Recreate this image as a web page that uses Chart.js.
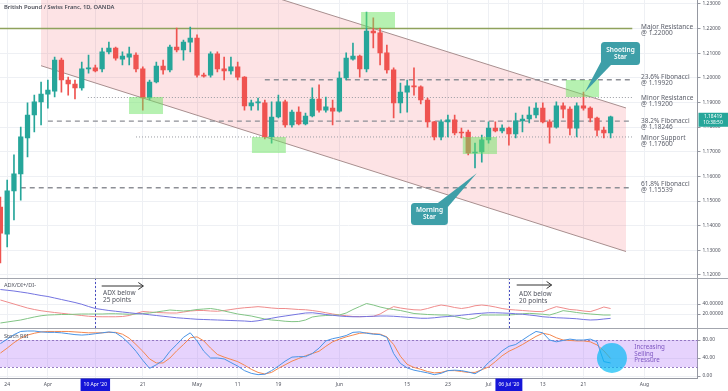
<!DOCTYPE html>
<html><head><meta charset="utf-8">
<script src="https://cdn.jsdelivr.net/npm/chart.js@4.4.1/dist/chart.umd.min.js"></script>
<style>html,body{margin:0;padding:0;background:#fff;overflow:hidden}canvas{display:block}</style>
</head><body>
<canvas id="c" width="728" height="391"></canvas>
<script>
// ---------------- DATA ----------------
const opens  = [1.1476,1.1366,1.1541,1.1610,1.1756,1.1849,1.1902,1.1934,1.1946,1.2072,1.1991,1.1975,1.1959,1.2036,1.2040,1.2036,1.2105,1.2121,1.2076,1.2084,1.2092,1.2036,1.1918,1.1983,1.2048,1.2032,1.2125,1.2113,1.2145,1.2161,1.2011,1.2011,1.2097,1.2036,1.2028,1.2044,1.2003,1.1886,1.1898,1.1898,1.1760,1.1841,1.1902,1.1809,1.1861,1.1813,1.1845,1.1914,1.1869,1.1877,1.1865,1.1999,1.2076,1.2088,1.2036,1.2190,1.2182,1.2101,1.2032,1.1898,1.1942,1.1967,1.1963,1.1910,1.1821,1.1760,1.1821,1.1829,1.1780,1.1780,1.1695,1.1699,1.1748,1.1796,1.1784,1.1796,1.1772,1.1825,1.1833,1.1849,1.1877,1.1821,1.1800,1.1886,1.1873,1.1796,1.1886,1.1877,1.1837,1.1788,1.1776];
const highs  = [1.1516,1.1585,1.1687,1.1800,1.1898,1.1930,1.1983,1.1991,1.2084,1.2080,1.2003,1.1991,1.2064,1.2092,1.2052,1.2121,1.2145,1.2125,1.2105,1.2125,1.2101,1.2044,1.1991,1.2064,1.2072,1.2133,1.2202,1.2153,1.2206,1.2174,1.2019,1.2105,1.2105,1.2084,1.2084,1.2064,1.2005,1.1910,1.1918,1.1910,1.1902,1.1930,1.1910,1.1869,1.1882,1.1857,1.1959,1.1971,1.1922,1.1910,1.2024,1.2101,1.2141,1.2092,1.2267,1.2243,1.2202,1.2133,1.2040,1.1979,1.1991,1.2040,1.1967,1.1918,1.1823,1.1829,1.1849,1.1849,1.1796,1.1788,1.1735,1.1768,1.1821,1.1821,1.1809,1.1800,1.1857,1.1849,1.1882,1.1898,1.1898,1.1829,1.1902,1.1898,1.1882,1.1898,1.1942,1.1882,1.1841,1.1800,1.1845];
const lows   = [1.1249,1.1314,1.1423,1.1504,1.1679,1.1780,1.1809,1.1877,1.1922,1.1942,1.1930,1.1914,1.1950,1.2019,1.2024,1.2024,1.2097,1.2072,1.2052,1.2052,1.2024,1.1869,1.1910,1.1979,1.2015,1.2024,1.2105,1.2072,1.2105,1.2003,1.2003,1.2003,1.2024,1.1991,1.2015,1.1991,1.1869,1.1869,1.1869,1.1752,1.1735,1.1837,1.1800,1.1800,1.1809,1.1809,1.1841,1.1861,1.1861,1.1809,1.1861,1.1991,1.2072,1.2003,1.2024,1.2121,1.2052,1.2019,1.1837,1.1857,1.1861,1.1930,1.1894,1.1800,1.1748,1.1748,1.1760,1.1768,1.1756,1.1687,1.1634,1.1658,1.1735,1.1780,1.1776,1.1727,1.1756,1.1780,1.1817,1.1837,1.1817,1.1735,1.1796,1.1837,1.1768,1.1760,1.1869,1.1821,1.1764,1.1756,1.1756];
const closes = [1.1370,1.1541,1.1610,1.1760,1.1849,1.1902,1.1934,1.1950,1.2072,1.1991,1.1975,1.1959,1.2036,1.2040,1.2028,1.2105,1.2121,1.2080,1.2088,1.2097,1.2036,1.1918,1.1983,1.2048,1.2032,1.2125,1.2113,1.2145,1.2161,1.2011,1.2007,1.2097,1.2036,1.2028,1.2044,1.2003,1.1886,1.1898,1.1902,1.1760,1.1841,1.1902,1.1809,1.1861,1.1813,1.1845,1.1914,1.1869,1.1882,1.1865,1.1999,1.2080,1.2088,1.2036,1.2190,1.2182,1.2101,1.2032,1.1898,1.1942,1.1967,1.1963,1.1910,1.1821,1.1760,1.1821,1.1829,1.1776,1.1776,1.1695,1.1699,1.1748,1.1796,1.1784,1.1796,1.1772,1.1825,1.1833,1.1849,1.1877,1.1821,1.1800,1.1886,1.1873,1.1796,1.1886,1.1877,1.1837,1.1788,1.1776,1.18419];

const adx    = [69,67.5,66,64,62,59.5,57,55,52,49,46,43,39.5,35,31,29,27,25.5,24,22.5,21,20,18.5,17,15.5,14,12.5,11.5,10.5,9.5,9,8.5,8,7.5,7,6.5,6,5,6.5,9,11.5,14,16,18,20,22,22.5,21,19,17.5,16,15,14.5,14.5,15,15.5,16,16,15.5,14.5,13.5,12.5,11.5,11.5,12.5,14,15,16,17.5,19,20.5,21.5,22.5,22.5,22,21.5,20.5,19.5,18,16.5,14.5,13.5,12.5,12,11.3,10.5,9,8,8.5,10,11.3];
const diMinus= [48,44,40,36,32,29,26.5,24.7,23,21.5,20,18.5,17,15.5,14.7,14.5,14.5,14.5,15,17,21,25,24,23,22.5,22,22,24,26,27,27,26,25.5,27,29,31,32.5,33.5,34.7,33.5,32,31,31,30,29,28.5,27,25,22.5,20,18,16.5,15,14.7,15,15.3,20,28,34.7,32,30,28.5,28,31,35,38,36,33,31,33,36.5,38,36.5,34,31,29,28,27,26,25,24.7,30,34.7,32,29,28,26,24.7,29,34,31];
const diPlus = [2,4,6,8,11,14,16.5,18,18.5,19,19,19.5,20,20,20,20,20.5,20.5,20,19.5,20,21,22,24,26,28,27,26,27,29,30,31,29,26,23,20,18,16,13,10,8,7,5.5,4.7,5,8,14,16,17,17.5,18,22,29,35,41,38,34,31,29,27,24,21,20,19,18.5,18,18,15,12,9.3,12,18,18,18,18,18,19,20.5,21.3,20.5,19.5,18,22,26.7,25,23,21.3,20,19,18,18];
const stochK = [72,82,92,99,100,100,98,97,97,96,94,92,91,92,94,96,98,96,86,72,55,35,17,25,35,55,70,86,96,78,55,40,40,38,30,22,12,6,3,4,12,22,33,42,43,43,50,62,78,83,86,90,97,98,95,93,92,86,50,28,18,13,10,7,3,6,12,13,12,9,5,14,30,42,56,66,70,80,90,99,96,80,76,79,82,80,80,82,76,32,29];
const stochD = [51,62,74,84,91,95,98,99,99,99,99,98,97,96,96,96,97,97,93,84,70,55,38,29,29,40,56,70,85,87,78,62,48,42,37,32,24,15,8,4.5,8,17,25,33,39,45,50,55,66,76,82,87,91,95,96,94,93,87,70,44,26,19,15,10,7,8,12,12,10,8,8,14,20,32,45,55,62,70,79,88,95,92,85,80,79,78,78,76,69,56,39];

const xTickIdx    = [1,7,14,21,29,35,41,50,60,66,72,75,80,86,95];
const xTickLabels = ['24','Apr',"10 Apr '20",'21','May','11','19','Jun','15','23','Jul',"06 Jul '20",'13','21','Aug'];
const highlightTicks = ["10 Apr '20","06 Jul '20"];
const priceTicks  = [1.12,1.13,1.14,1.15,1.16,1.17,1.18,1.19,1.20,1.21,1.22,1.23];
const adxTicks    = [20,40];
const stochTicks  = [0,40,80];

const levelNames  = ['Major Resistance','23.6% Fibonacci','Minor Resistance','38.2% Fibonacci','Minor Support','61.8% Fibonacci'];
const levelPrices = [1.22000,1.19920,1.19200,1.18246,1.17600,1.15539];
const levelStart  = [-0.06,39.0,12.9,7.0,20.0,3.0];
const levelEnd    = 93.2;

const channelX     = [5.99, 92.27];
const channelUpper = [1.2625, 1.18775];
const channelLower = [1.20491, 1.12953];

// highlight boxes: [x0, x1, priceTop, priceBottom]
const boxX0 = [18.97, 37.1, 53.2, 68.2, 83.4];
const boxX1 = [23.98, 42.1, 58.2, 73.24, 88.3];
const boxP0 = [1.19221, 1.17598, 1.22669, 1.17598, 1.19911];
const boxP1 = [1.18531, 1.16949, 1.22020, 1.16908, 1.19221];

const lastTime = '10:38:50';

// ---------------- STYLE ----------------
const F = "'Noto Sans', 'DejaVu Sans', sans-serif";
const UP = '#26a69a', DOWN = '#ef5350';
const GRID = '#eef0f4';
const AX = '#50535e';
const levelStyle = [
  {color:'#8fa25c', dash:[], w:1.3},
  {color:'#8d8f96', dash:[5,4], w:1.3},
  {color:'#9a9ca3', dash:[1,2], w:1},
  {color:'#8d8f96', dash:[5,4], w:1.3},
  {color:'#9a9ca3', dash:[1,2], w:1},
  {color:'#8d8f96', dash:[5,4], w:1.3}
];
const levelLabelDy = [-1.8,-3.1,0.2,-0.3,0.7,-3.8];

Chart.defaults.font.family = F;

const idx = opens.map((_, i) => i);
const candleColors = idx.map(i => closes[i] >= opens[i] ? UP : DOWN);
const pts = arr => arr.map((v, i) => ({x: i, y: v}));

const xMin = -0.059, xMax = -0.059 + 697.5 / 6.78;
const yMin = 1.11878, yMax = 1.23156;

function noPad(s){ s.paddingTop = 0; s.paddingBottom = 0; s.paddingLeft = 0; s.paddingRight = 0; }
function yAxis(weight, min, max, ticks, dec){
  return {
    type:'linear', position:'right', stack:'pane', stackWeight:weight, min, max,
    grid:{color:GRID, tickLength:3, tickColor:'#9598a1'},
    border:{color:'#9598a1'},
    afterBuildTicks: s => { s.ticks = ticks.map(v => ({value:v})); },
    afterFit: s => { s.width = 30.5; noPad(s); },
    ticks:{ font:{size:4.9}, color:AX, padding:2, autoSkip:false, callback: v => Number(v).toFixed(dec) }
  };
}

function txt(ctx, s, x, y, size, color, weight, align){
  ctx.font = (weight || 'normal') + ' ' + size + 'px ' + F;
  ctx.fillStyle = color; ctx.textAlign = align || 'left'; ctx.textBaseline = 'middle';
  ctx.fillText(s, x, y);
}
function roundRect(ctx, x, y, w, h, r){
  ctx.beginPath();
  ctx.moveTo(x + r, y); ctx.lineTo(x + w - r, y); ctx.quadraticCurveTo(x + w, y, x + w, y + r);
  ctx.lineTo(x + w, y + h - r); ctx.quadraticCurveTo(x + w, y + h, x + w - r, y + h);
  ctx.lineTo(x + r, y + h); ctx.quadraticCurveTo(x, y + h, x, y + h - r);
  ctx.lineTo(x, y + r); ctx.quadraticCurveTo(x, y, x + r, y); ctx.closePath();
}
function arrow(ctx, x0, x1, y){
  ctx.save(); ctx.strokeStyle = '#333'; ctx.lineWidth = 1;
  ctx.beginPath(); ctx.moveTo(x0, y); ctx.lineTo(x1, y);
  ctx.moveTo(x1 - 5, y - 3.5); ctx.lineTo(x1, y); ctx.lineTo(x1 - 5, y + 3.5); ctx.stroke(); ctx.restore();
}

const overlay = {
  id:'overlay',
  beforeDatasetsDraw(chart){
    const {ctx, chartArea:ca} = chart;
    const {x, y, yStoch} = chart.scales;
    const X = v => x.getPixelForValue(v), Y = v => y.getPixelForValue(v);
    // stoch band
    ctx.save();
    const b80 = yStoch.getPixelForValue(80), b20 = yStoch.getPixelForValue(20);
    ctx.fillStyle = 'rgba(180,120,250,0.33)';
    ctx.fillRect(ca.left, b80, ca.right - ca.left, b20 - b80);
    ctx.strokeStyle = 'rgba(140,110,190,0.9)'; ctx.lineWidth = 1; ctx.setLineDash([2,2]);
    ctx.beginPath(); ctx.moveTo(ca.left, Math.round(b80)+0.5); ctx.lineTo(ca.right, Math.round(b80)+0.5);
    ctx.moveTo(ca.left, Math.round(b20)+0.5); ctx.lineTo(ca.right, Math.round(b20)+0.5); ctx.stroke();
    ctx.restore();
    // main pane
    ctx.save();
    ctx.beginPath(); ctx.rect(ca.left, y.top, ca.right - ca.left, y.bottom - y.top); ctx.clip();
    ctx.beginPath();
    ctx.moveTo(X(channelX[0]), Y(channelUpper[0]));
    ctx.lineTo(X(channelX[1]), Y(channelUpper[1]));
    ctx.lineTo(X(channelX[1]), Y(channelLower[1]));
    ctx.lineTo(X(channelX[0]), Y(channelLower[0]));
    ctx.closePath();
    ctx.fillStyle = 'rgba(242,54,69,0.14)'; ctx.fill();
    ctx.strokeStyle = '#a88f8f'; ctx.lineWidth = 1;
    ctx.beginPath();
    ctx.moveTo(X(channelX[0]), Y(channelUpper[0])); ctx.lineTo(X(channelX[1]), Y(channelUpper[1]));
    ctx.moveTo(X(channelX[0]), Y(channelLower[0])); ctx.lineTo(X(channelX[1]), Y(channelLower[1]));
    ctx.stroke();
    levelPrices.forEach((p, i) => {
      const st = levelStyle[i];
      ctx.strokeStyle = st.color; ctx.lineWidth = st.w; ctx.setLineDash(st.dash);
      const py = Y(p);
      ctx.beginPath(); ctx.moveTo(X(levelStart[i]), py); ctx.lineTo(X(levelEnd), py); ctx.stroke();
    });
    ctx.restore();
  },
  afterDraw(chart){
    const {ctx, chartArea:ca} = chart;
    const {x, y, yAdx, yStoch} = chart.scales;
    const X = v => x.getPixelForValue(v), Y = v => y.getPixelForValue(v);
    const YA = v => yAdx.getPixelForValue(v), YS = v => yStoch.getPixelForValue(v);
    // highlight boxes
    ctx.save();
    ctx.beginPath(); ctx.rect(ca.left, y.top, ca.right - ca.left, y.bottom - y.top); ctx.clip();
    ctx.fillStyle = 'rgba(110,228,100,0.5)';
    boxX0.forEach((bx, i) => {
      const x0 = X(bx), x1 = X(boxX1[i]), y0 = Y(boxP0[i]), y1 = Y(boxP1[i]);
      ctx.fillRect(x0, y0, x1 - x0, y1 - y0);
    });
    ctx.restore();
    // level labels
    levelPrices.forEach((p, i) => {
      const py = Y(p) + levelLabelDy[i];
      txt(ctx, levelNames[i], X(94.5), py, 6.5, '#5d606b');
      txt(ctx, '@ ' + p.toFixed(5), X(94.5), py + 6.4, 6.5, '#5d606b');
    });
    // callouts
    const CALL = '#3e9fa8';
    function callout(bx0, bx1, bp0, bp1, tipX, tipP, base, lines){
      const x0 = X(bx0), x1 = X(bx1), y0 = Y(bp0), y1 = Y(bp1);
      ctx.save(); ctx.fillStyle = CALL;
      roundRect(ctx, x0, y0, x1 - x0, y1 - y0, 3.5); ctx.fill();
      const b = base(x0, x1, y0, y1);
      ctx.beginPath(); ctx.moveTo(b[0], b[1]); ctx.lineTo(X(tipX), Y(tipP)); ctx.lineTo(b[2], b[3]); ctx.closePath(); ctx.fill();
      const cx = (x0 + x1) / 2, cy = (y0 + y1) / 2;
      txt(ctx, lines[0], cx, cy - 3.4, 6.5, '#fff', '600', 'center');
      txt(ctx, lines[1], cx, cy + 3.4, 6.5, '#fff', '600', 'center');
      ctx.restore();
    }
    callout(88.58, 94.34, 1.21452, 1.20519, 86.22, 1.19424, (x0,x1,y0,y1) => [x0 + 0.5, y1 - 4, x0 + 10, y1], ['Shooting','Star']);
    callout(60.56, 66.0, 1.14921, 1.14029, 70.25, 1.16125, (x0,x1,y0,y1) => [x1 - 10, y0, x1, y0 + 4], ['Morning','Star']);
    // ADX annotations
    ctx.save();
    ctx.strokeStyle = '#4a4ec0'; ctx.lineWidth = 1; ctx.setLineDash([2,2]);
    [14, 75].forEach(v => { const px = Math.round(X(v)) + 0.5; ctx.beginPath(); ctx.moveTo(px, yAdx.top); ctx.lineTo(px, yAdx.bottom); ctx.stroke(); });
    ctx.restore();
    arrow(ctx, X(14.94), X(21.08), YA(76));
    arrow(ctx, X(76.15), X(81.3), YA(78));
    txt(ctx, 'ADX below', X(15.13), YA(61.4), 6.5, '#50535e');
    txt(ctx, '25 points', X(15.13), YA(48), 6.5, '#50535e');
    txt(ctx, 'ADX below', X(76.5), YA(60), 6.5, '#50535e');
    txt(ctx, '20 points', X(76.5), YA(46), 6.5, '#50535e');
    txt(ctx, 'ADX/DI+/DI-', 4, yAdx.top + 7, 5.6, '#50535e');
    txt(ctx, 'Stoch RSI', 4, yStoch.top + 8, 5.6, '#50535e');
    // stoch circle + text
    ctx.save();
    ctx.fillStyle = 'rgba(0,185,245,0.68)';
    ctx.beginPath(); ctx.arc(X(90.2), YS(40), 15, 0, Math.PI * 2); ctx.fill();
    ctx.restore();
    txt(ctx, 'Increasing', X(93.5), YS(62.9), 6.2, '#7e57c2');
    txt(ctx, 'Selling', X(93.5), YS(48.9), 6.2, '#7e57c2');
    txt(ctx, 'Pressure', X(93.5), YS(34.5), 6.2, '#7e57c2');
    // separators
    ctx.save(); ctx.strokeStyle = '#a3a6ae'; ctx.lineWidth = 1;
    [y.bottom, yAdx.bottom].forEach(py => { const p = Math.round(py) + 0.5; ctx.beginPath(); ctx.moveTo(0, p); ctx.lineTo(728, p); ctx.stroke(); });
    ctx.restore();
    // title
    txt(ctx, 'British Pound / Swiss Franc, 1D, OANDA', 4, 7.5, 5.8, '#4a4d57', '600');
    // last price label
    const last = closes[closes.length - 1];
    const py = Y(last);
    ctx.save(); ctx.fillStyle = UP; ctx.fillRect(ca.right + 1, py - 4, 728 - ca.right - 1, 14);
    ctx.restore();
    txt(ctx, last.toFixed(5), ca.right + 15.5, py - 0.3, 4.9, '#fff', 'normal', 'center');
    txt(ctx, lastTime, ca.right + 15.5, py + 6.3, 4.9, '#fff', 'normal', 'center');
  }
};

new Chart(document.getElementById('c'), {
  type:'bar',
  data:{ datasets:[
    {type:'bar', data: idx.map(i => ({x:i, y:[lows[i], highs[i]]})), backgroundColor:candleColors, barThickness:1, grouped:false, minBarLength:1, order:5, xAxisID:'x', yAxisID:'y'},
    {type:'bar', data: idx.map(i => ({x:i, y:[opens[i], closes[i]]})), backgroundColor:candleColors, barThickness:4.6, grouped:false, minBarLength:1, order:4, xAxisID:'x', yAxisID:'y'},
    {type:'line', data: pts(diMinus), borderColor:'#ef8c8c', borderWidth:1, pointRadius:0, tension:0, order:3, xAxisID:'x', yAxisID:'yAdx'},
    {type:'line', data: pts(diPlus), borderColor:'#82c485', borderWidth:1, pointRadius:0, tension:0, order:2, xAxisID:'x', yAxisID:'yAdx'},
    {type:'line', data: pts(adx), borderColor:'#7474e0', borderWidth:1, pointRadius:0, tension:0, order:1, xAxisID:'x', yAxisID:'yAdx'},
    {type:'line', data: pts(stochD), borderColor:'#f4874f', borderWidth:1, pointRadius:0, tension:0, order:2, xAxisID:'x', yAxisID:'yStoch'},
    {type:'line', data: pts(stochK), borderColor:'#4a94e6', borderWidth:1, pointRadius:0, tension:0, order:1, xAxisID:'x', yAxisID:'yStoch'}
  ]},
  options:{
    responsive:false, animation:false, devicePixelRatio:1,
    layout:{padding:0},
    plugins:{legend:{display:false}, tooltip:{enabled:false}},
    scales:{
      x:{
        type:'linear', min:xMin, max:xMax, offset:false, position:'bottom',
        grid:{color:GRID, drawTicks:false, offset:false},
        border:{color:'#9598a1'},
        afterBuildTicks: s => { s.ticks = xTickIdx.map(v => ({value:v})); },
        afterFit: s => { s.height = 13; noPad(s); },
        ticks:{
          autoSkip:false, maxRotation:0, padding:4, font:{size:5},
          callback:(v, i) => xTickLabels[i],
          color: c => highlightTicks.includes(xTickLabels[c.index]) ? '#ffffff' : AX,
          showLabelBackdrop: c => highlightTicks.includes(xTickLabels[c.index]),
          backdropColor: '#1515d8',
          backdropPadding:{top:3.5, bottom:3.5, left:3, right:3}
        }
      },
      y: yAxis(278, yMin, yMax, priceTicks, 5),
      yAdx: yAxis(50, -8, 92, adxTicks, 5),
      yStoch: yAxis(50, -4.4, 106.7, stochTicks, 2)
    }
  },
  plugins:[overlay]
});
</script>
</body></html>
